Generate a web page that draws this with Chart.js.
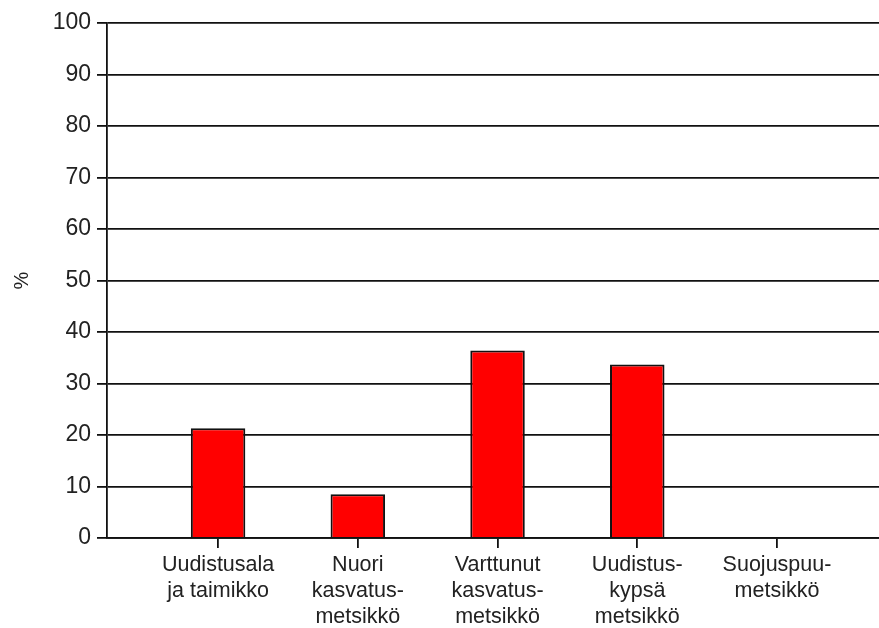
<!DOCTYPE html>
<html>
<head>
<meta charset="utf-8">
<script src="https://cdn.jsdelivr.net/npm/chart.js@4/dist/chart.umd.min.js"></script>
<style>
    html, body { margin: 0; padding: 0; background: #fff; }
    #wrap { width: 879px; height: 628px; position: relative; }
</style>
</head>
<body>
<div id="wrap"><canvas id="chart"></canvas></div>
<script>
// data
const categories = [
    ['Uudistusala', 'ja taimikko'],
    ['Nuori', 'kasvatus-', 'metsikkö'],
    ['Varttunut', 'kasvatus-', 'metsikkö'],
    ['Uudistus-', 'kypsä', 'metsikkö'],
    ['Suojuspuu-', 'metsikkö']
];
const positions = [1, 2, 3, 4, 5];
const shares = [21.3, 8.5, 36.4, 33.7, 0];
const yTicks = [0, 10, 20, 30, 40, 50, 60, 70, 80, 90, 100];

const fontFamily = '"Liberation Sans", Arial, sans-serif';

const ctx = document.getElementById('chart').getContext('2d');
new Chart(ctx, {
    type: 'bar',
    data: {
        datasets: [{
            label: '%',
            data: positions.map((p, i) => ({ x: p, y: shares[i] })),
            backgroundColor: '#ff0000',
            borderColor: '#111',
            borderWidth: 2,
            categoryPercentage: 1,
            barPercentage: 0.39
        }]
    },
    options: {
        responsive: true,
        maintainAspectRatio: false,
        animation: false,
        layout: { padding: { top: 23, right: 0, bottom: 0, left: 0 } },
        plugins: { legend: { display: false }, tooltip: { enabled: false } },
        scales: {
            x: {
                type: 'linear',
                offset: false,
                min: 0.205,
                max: 5.73,
                afterBuildTicks: (scale) => { scale.ticks = positions.map(v => ({ value: v })); },
                afterFit: (scale) => { scale.height = 90; },
                grid: { offset: false, drawOnChartArea: false, color: '#111', lineWidth: 1.8, tickLength: 10 },
                border: { color: '#111', width: 1.8 },
                ticks: {
                    autoSkip: false,
                    maxRotation: 0,
                    padding: 4,
                    color: '#222',
                    font: { family: fontFamily, size: 21.5, lineHeight: 1.22 },
                    callback: (v) => categories[v - 1] || ''
                }
            },
            y: {
                min: 0,
                max: 100,
                afterBuildTicks: (scale) => { scale.ticks = yTicks.map(v => ({ value: v })); },
                afterFit: (scale) => { scale.width = 107; },
                grid: { color: '#111', lineWidth: 1.8, tickLength: 10 },
                border: { color: '#111', width: 1.8 },
                ticks: {
                    padding: 6,
                    color: '#222',
                    font: { family: fontFamily, size: 23 }
                },
                title: {
                    display: true,
                    text: '%',
                    color: '#222',
                    font: { family: fontFamily, size: 20 },
                    padding: { top: 10, bottom: 0 }
                }
            }
        }
    }
});
</script>
</body>
</html>
